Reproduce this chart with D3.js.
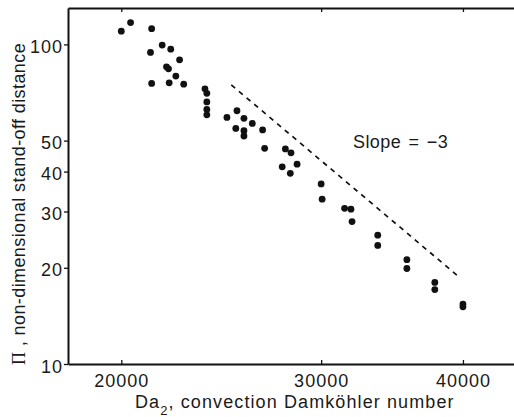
<!DOCTYPE html>
<html>
<head>
<meta charset="utf-8">
<script src="https://cdn.jsdelivr.net/npm/d3@7"></script>
<style>
  body { margin: 0; background: #fff; }
  svg { display: block; font-family: 'Liberation Sans', Arial, Helvetica, sans-serif; }
</style>
</head>
<body>
<div id="chart-area"></div>
<script>
// frame: right side runs off the picture, like the original
const margin = { left: 68, right: 0, top: 8, bottom: 53 };
const W = 514;
const H = 417;
const height = H - margin.top - margin.bottom;

// data
const daValues = [
  20000, 20380, 21270, 21730, 22110, 21220, 22510, 21920, 22010, 22340,
  21270, 22040, 22700, 23700, 23790, 23790, 23790, 23790, 24780, 25290,
  25650, 26090, 25230, 25650, 25650, 26640, 26750, 27900, 28220, 27720,
  28570, 28180, 30000, 30060, 31460, 31870, 31940, 33650, 33650, 35700,
  35700, 37780, 37780, 40000, 40000,
];
const piValues = [
  110, 117, 112, 99.5, 96.6, 94.4, 89.5, 85.1, 83.9, 79.6,
  75.5, 75.8, 75.1, 72.6, 70.3, 66.1, 62.6, 60.2, 59.1, 62.0,
  58.7, 56.6, 54.6, 53.7, 51.7, 54.0, 47.3, 47.1, 45.8, 41.4,
  42.2, 39.5, 36.6, 32.8, 30.7, 30.5, 27.9, 25.3, 23.5, 21.2,
  19.9, 18.0, 17.1, 15.1, 15.4,
];
// slope = -3 guide line, end points
const slopeDa = [25000, 39700];
const slopePi = [74.7, 18.7];

const xTicks = [20000, 30000, 40000];
const yTicks = [10, 20, 30, 40, 50, 100];

const svg = d3
  .select('#chart-area')
  .append('svg')
  .attr('width', W)
  .attr('height', H);

const x = d3.scaleLog().domain([17950, 45000]).range([margin.left, 521]);
const y = d3
  .scaleLog()
  .domain([10, 130])
  .range([margin.top + height, margin.top]);

const points = daValues.map((d, i) => ({ da: d, pi: piValues[i] }));
const slopeLine = slopeDa.map((d, i) => ({ da: d, pi: slopePi[i] }));

// axes, matlab style box
const xAxisBottom = d3
  .axisBottom(x)
  .tickValues(xTicks)
  .tickSizeInner(-4)
  .tickSizeOuter(0)
  .tickPadding(10)
  .tickFormat(d3.format('d'));

const xAxisTop = d3
  .axisTop(x)
  .tickValues(xTicks)
  .tickSizeInner(-4)
  .tickSizeOuter(0)
  .tickFormat('');

const yAxisCall = d3
  .axisLeft(y)
  .tickValues(yTicks)
  .tickSizeInner(4)
  .tickSizeOuter(0)
  .tickPadding(1)
  .tickFormat(d3.format('d'));

const gx = svg
  .append('g')
  .attr('class', 'x axis')
  .attr('transform', `translate(0, ${margin.top + height})`)
  .call(xAxisBottom);

const gxt = svg
  .append('g')
  .attr('class', 'x axis top')
  .attr('transform', `translate(0, ${margin.top})`)
  .call(xAxisTop);

const gy = svg
  .append('g')
  .attr('class', 'y axis')
  .attr('transform', `translate(${margin.left}, 0)`)
  .call(yAxisCall);

svg.selectAll('.axis path').attr('stroke', '#111').attr('stroke-width', 2);
svg.selectAll('.axis line').attr('stroke', '#111').attr('stroke-width', 1.3);
svg
  .selectAll('.axis text')
  .attr('fill', '#1a1a1a')
  .style('font-size', '18px')
  .style('letter-spacing', '1px');
gy.selectAll('text').attr('dy', '0.45em');

// dashed slope line
const line = d3
  .line()
  .x((d) => x(d.da))
  .y((d) => y(d.pi));

svg
  .append('path')
  .datum(slopeLine)
  .attr('fill', 'none')
  .attr('stroke', '#111')
  .attr('stroke-width', 1.7)
  .attr('stroke-dasharray', '5,5')
  .attr('d', line);

// points
svg
  .selectAll('.pt')
  .data(points)
  .enter()
  .append('circle')
  .attr('class', 'pt')
  .attr('cx', (d) => x(d.da))
  .attr('cy', (d) => y(d.pi))
  .attr('r', 3.4)
  .attr('fill', '#111');

// annotation
svg
  .append('text')
  .attr('x', 353)
  .attr('y', 148)
  .attr('fill', '#1a1a1a')
  .style('font-size', '18px')
  .style('letter-spacing', '0.4px')
  .style('word-spacing', '2px')
  .text('Slope = \u22123');

// x label
const xl = svg
  .append('text')
  .attr('x', 135)
  .attr('y', 408)
  .attr('fill', '#1a1a1a')
  .style('font-size', '18px')
  .style('letter-spacing', '1.1px');
xl.append('tspan').text('Da');
xl.append('tspan').attr('dy', 7).style('font-size', '13px').text('2');
xl.append('tspan').attr('dy', -7).text(', convection Damköhler number');

// y label
const yl = svg
  .append('text')
  .attr('transform', 'translate(25, 365) rotate(-90)')
  .attr('fill', '#1a1a1a')
  .style('font-size', '18px')
  .style('letter-spacing', '0.4px');
yl.append('tspan')
  .style('font-family', "'Liberation Serif', 'DejaVu Serif', serif")
  .text('\u03A0');
yl.append('tspan').text(' , non-dimensional stand-off distance');
</script>
</body>
</html>
